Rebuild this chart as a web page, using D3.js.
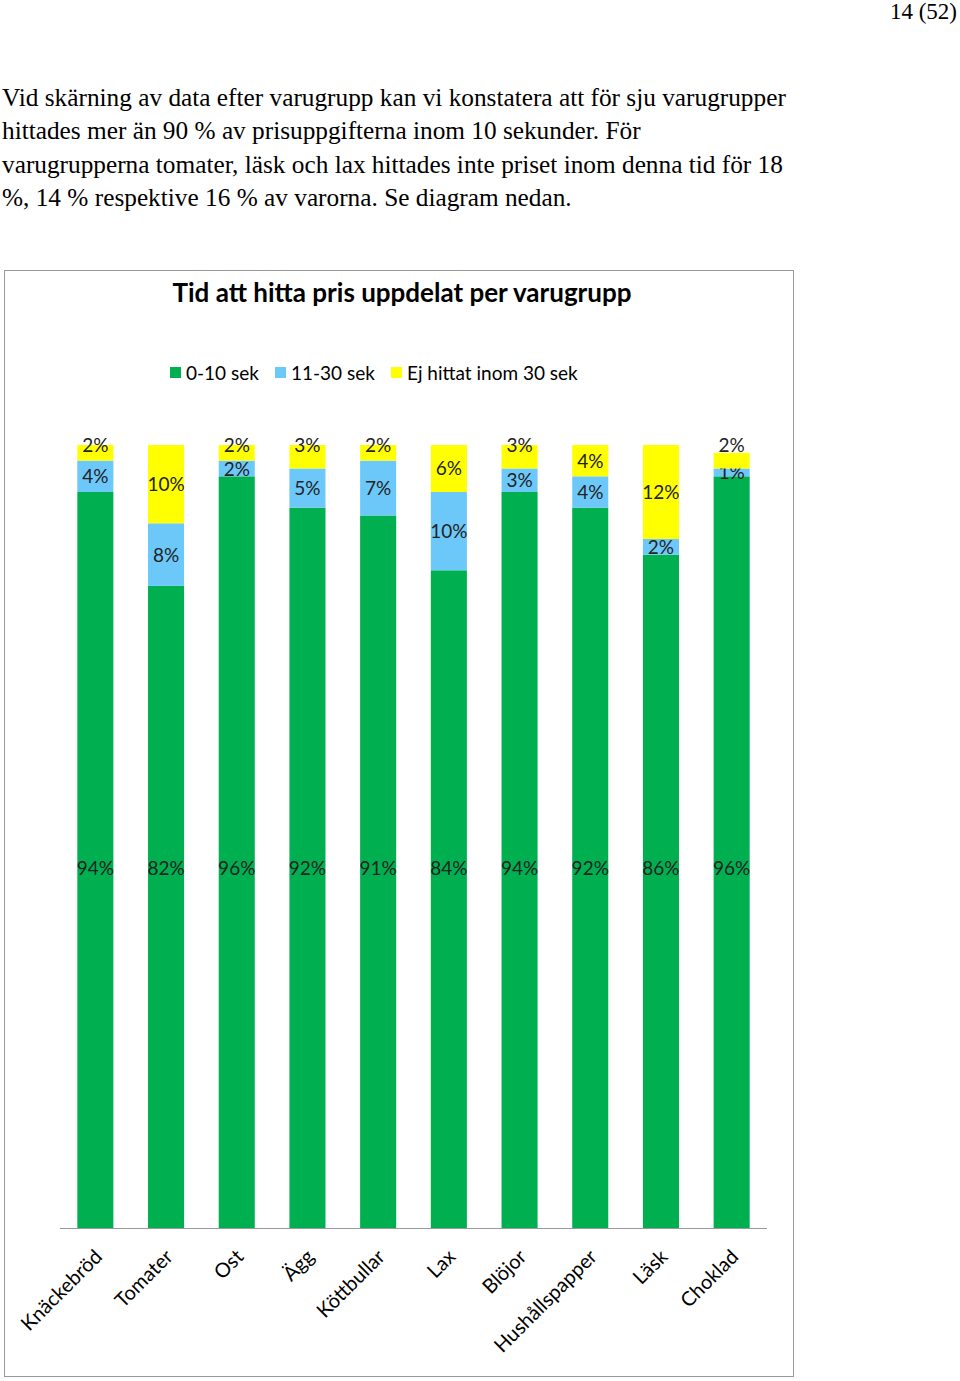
<!DOCTYPE html>
<html><head><meta charset="utf-8">
<script src="https://cdn.jsdelivr.net/npm/d3@7"></script>
<style>body{margin:0;background:#fff}</style></head>
<body><svg id="chart" width="960" height="1381"></svg>
<script>
const categories=["Knäckebröd","Tomater","Ost","Ägg","Köttbullar","Lax","Blöjor","Hushållspapper","Läsk","Choklad"];
const sek0_10=[94,82,96,92,91,84,94,92,86,96];
const sek11_30=[4,8,2,5,7,10,3,4,2,1];
const ejHittat=[2,10,2,3,2,6,3,4,12,2];
const seriesNames=["0-10 sek","11-30 sek","Ej hittat inom 30 sek"];
const colors=["#00B050","#6DC8FA","#FFFF00"];
const paragraph=["Vid skärning av data efter varugrupp kan vi konstatera att för sju varugrupper","hittades mer än 90 % av prisuppgifterna inom 10 sekunder. För","varugrupperna tomater, läsk och lax hittades inte priset inom denna tid för 18","%, 14 % respektive 16 % av varorna. Se diagram nedan."];

const svg=d3.select("#chart");
svg.append("text").attr("x",957).attr("y",19).attr("text-anchor","end").attr("font-family","Liberation Serif").attr("font-size",23).text("14 (52)");
paragraph.forEach((t,i)=>svg.append("text").attr("x",2).attr("y",106+i*33.3).attr("font-family","Liberation Serif").attr("font-size",25.3).text(t));
svg.append("rect").attr("x",4.5).attr("y",270.5).attr("width",789).attr("height",1106).attr("fill","none").attr("stroke","#999");
svg.append("text").attr("x",402).attr("y",302).attr("text-anchor","middle").attr("font-family","Lato").attr("font-weight","bold").attr("font-size",26).text("Tid att hitta pris uppdelat per varugrupp");
const lx=[170,275,391];
seriesNames.forEach((n,i)=>{
 svg.append("rect").attr("x",lx[i]).attr("y",367).attr("width",11).attr("height",11).attr("fill",colors[i]);
 svg.append("text").attr("x",lx[i]+16).attr("y",380).attr("font-family","Lato").attr("font-size",19).text(n);
});
const data=categories.map((c,i)=>({c,a:sek0_10[i],b:sek11_30[i],d:ejHittat[i]}));
const stack=d3.stack().keys(["a","b","d"])(data);
const x=d3.scaleBand().domain(categories).range([60,767]).paddingInner(0.49).paddingOuter(0.245);
const y=d3.scaleLinear().domain([0,100]).range([1228,445]);
const yellowBase=stack[2].map(d=>Math.min((y(d[0])+y(d[1]))/2+7,(y(d[0])+y(d[1]))/2+7>y(d[1])+20?1e9:y(100)+7));
function labelY(k,d,i){
 const mid=(y(d[0])+y(d[1]))/2+7;
 if(k===0) return y(46)+7;
 if(k===2) return yellowBase[i];
 return Math.max(mid,yellowBase[i]+24);
}
stack.forEach((s,k)=>{
 const g=svg.append("g");
 g.selectAll("rect").data(s).join("rect").attr("x",d=>x(d.data.c)).attr("width",x.bandwidth())
  .attr("y",d=>y(d[1])).attr("height",d=>y(d[0])-y(d[1])).attr("fill",colors[k]);
 g.selectAll("text").data(s).join("text").attr("x",d=>x(d.data.c)+x.bandwidth()/2)
  .attr("y",(d,i)=>labelY(k,d,i)).attr("text-anchor","middle").attr("font-family","Lato").attr("font-size",19).attr("fill","#222")
  .text(d=>(d[1]-d[0])+"%");
});
svg.append("line").attr("x1",60).attr("x2",767).attr("y1",1228.5).attr("y2",1228.5).attr("stroke","#999");
svg.append("g").selectAll("text").data(categories).join("text")
 .attr("transform",d=>`translate(${x(d)+x.bandwidth()/2+8},1258) rotate(-45)`)
 .attr("text-anchor","end").attr("font-family","Lato").attr("font-size",20).text(d=>d);
</script></body></html>
